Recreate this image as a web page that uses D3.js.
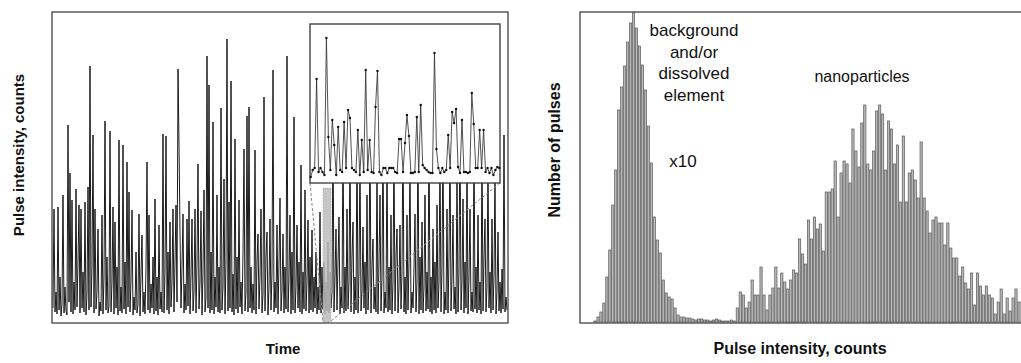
<!DOCTYPE html>
<html><head><meta charset="utf-8">
<script src="https://cdn.jsdelivr.net/npm/d3@7"></script>
<style>body{margin:0;background:#fff}svg{display:block}text{font-family:"Liberation Sans",Arial,Helvetica,sans-serif}</style>
</head><body><div id="c"></div>
<script>
// Left panel: time-resolved signal (counts), one value per time step
const signal = [
14,113,10,30,8,115,12,45,6,18,127,9,35,11,7,197,20,149,10,122,
8,40,12,133,15,60,117,9,113,14,50,10,120,7,28,135,12,256,15,55,
187,9,113,13,30,93,6,20,11,107,8,45,201,12,65,9,16,191,10,40,
115,8,100,14,55,7,182,11,35,9,177,13,60,8,160,15,130,10,42,112,
7,25,12,70,9,18,108,6,48,87,10,30,8,55,160,12,107,9,38,14,
65,8,123,11,45,7,97,13,30,10,188,9,50,186,12,70,8,100,15,40,
113,10,60,117,20,253,178,90,14,55,108,9,38,12,103,16,121,8,45,103,
11,30,113,9,60,158,13,40,111,7,50,132,10,25,266,14,237,9,70,12,
200,8,45,15,127,10,55,9,214,12,35,143,8,60,283,11,120,14,241,10,
48,7,183,13,65,9,122,15,40,8,70,173,11,30,206,10,215,14,55,9,
38,12,172,8,60,88,13,45,113,9,28,225,11,65,90,7,35,103,12,50,
252,10,40,14,97,8,60,124,11,30,88,9,55,13,266,10,45,107,8,70,
12,205,9,35,97,14,60,10,157,8,50,13,132,11,40,102,9,65,12,92,
10,45,14,70,8,35,12,110,9,55,13,60,8,40,11,80,9,50,14,30,
200,10,45,93,12,60,105,8,35,14,200,9,55,11,113,13,40,180,10,65,
100,8,45,12,190,9,50,170,11,30,95,14,60,8,127,12,40,200,9,55,
83,13,35,10,160,8,60,127,11,45,190,9,30,14,170,10,55,12,107,8,
40,180,11,65,93,9,35,97,13,50,200,10,45,8,107,12,60,160,9,30,
14,55,108,10,40,190,8,65,12,100,9,35,127,11,50,13,200,10,45,8,
93,12,60,9,117,14,40,170,10,55,190,8,30,12,113,9,65,180,11,45,
107,13,35,8,160,10,50,200,12,40,123,9,60,14,170,8,45,113,11,30,
10,190,13,55,9,107,12,40,8,180,11,65,103,10,35,160,14,50,9,103,
12,45,150,8,30,90,11,40,9,53,13,187,10,25,12
];
const zoomWindow = [270, 278];          // time steps shown enlarged in the inset
// Inset: enlarged portion of the signal
const insetSignal = [
1,8,10,99,6,10,6,3,140,41,8,58,33,3,51,8,6,56,10,68,
60,10,8,6,48,3,38,6,108,8,38,6,5,71,107,6,3,10,10,5,
10,10,10,6,5,39,39,6,35,63,42,5,5,6,61,6,73,13,10,8,
6,5,5,125,29,10,5,10,6,8,43,10,66,55,69,11,5,58,6,6,
5,6,85,54,10,10,48,10,48,6,10,5,10,3,8,11,10
];
// Right panel: histogram of pulse intensities (number of pulses per bin)
const histCounts = [
1,5,10,19,45,72,117,152,212,235,256,280,299,309,294,276,257,232,196,159,
105,82,69,42,29,25,23,14,7,5,5,4,4,3,2,3,3,2,2,1,2,3,2,1,1,1,2,1,14,30,27,
14,20,42,27,27,55,27,12,27,34,55,34,49,40,33,42,52,49,83,68,58,102,83,105,93,98,71,130,130,133,161,105,149,
161,158,139,193,171,155,199,217,158,152,171,211,217,208,152,201,193,158,177,120,186,120,149,152,142,124,180,124,111,89,
102,105,99,99,77,99,74,64,64,46,55,39,33,49,17,49,36,27,36,27,24,8,20,33,8,24,11,24,33,20
];
const labels = {
  leftX: "Time", leftY: "Pulse intensity, counts",
  rightX: "Pulse intensity, counts", rightY: "Number of pulses"
};
const bgNote = ["background","and/or","dissolved","element"];
const scaleNote = "x10";
const npNote = "nanoparticles";

const W = 1021, H = 363;
const svg = d3.select("#c").append("svg").attr("width", W).attr("height", H);

// ---------- Left panel ----------
const L = {x0: 52, x1: 508, y0: 12, y1: 323};
const xT = d3.scaleLinear().domain([0, signal.length - 1]).range([53, 507]);
const yT = d3.scaleLinear().domain([0, 310]).range([322, 12]);
svg.append("clipPath").attr("id","clipL").append("rect")
  .attr("x", L.x0).attr("y", L.y0).attr("width", L.x1-L.x0).attr("height", L.y1-L.y0);
const gL = svg.append("g").attr("clip-path","url(#clipL)");
gL.append("path").datum(signal)
  .attr("d", d3.line().x((d,i)=>xT(i)).y(d=>yT(d)))
  .attr("fill","none").attr("stroke","#111").attr("stroke-width",0.95);

// highlighted window
const wx0 = xT(zoomWindow[0]), wx1 = xT(zoomWindow[1]);
const inset = {x0: 310, x1: 500, y0: 24, y1: 183};
gL.append("rect").attr("x", wx0).attr("y", 188).attr("width", wx1-wx0).attr("height", 322-188)
  .attr("fill","#bdbdbd").attr("opacity",0.85).attr("stroke","#999").attr("stroke-width",0.6).attr("stroke-dasharray","1.5,1.5");
gL.append("line").attr("x1", inset.x0).attr("y1", inset.y1).attr("x2", wx0).attr("y2", 322)
  .attr("stroke","#888").attr("stroke-width",1).attr("stroke-dasharray","3,2");
gL.append("line").attr("x1", inset.x1).attr("y1", inset.y1).attr("x2", wx1).attr("y2", 321)
  .attr("stroke","#888").attr("stroke-width",1).attr("stroke-dasharray","3,2");

// inset
svg.append("rect").attr("x", inset.x0).attr("y", inset.y0)
  .attr("width", inset.x1-inset.x0).attr("height", inset.y1-inset.y0)
  .attr("fill","#fff").attr("stroke","#333").attr("stroke-width",1.3);
const xI = d3.scaleLinear().domain([0, insetSignal.length - 1]).range([310.7, 499.3]);
const yI = d3.scaleLinear().domain([0, 150]).range([178, 28]);
svg.append("path").datum(insetSignal)
  .attr("d", d3.line().x((d,i)=>xI(i)).y(d=>yI(d)))
  .attr("fill","none").attr("stroke","#333").attr("stroke-width",0.85);
svg.append("g").selectAll("circle").data(insetSignal).join("circle")
  .attr("cx",(d,i)=>xI(i)).attr("cy",d=>yI(d)).attr("r",1.2).attr("fill","#111");

svg.append("rect").attr("x", L.x0).attr("y", L.y0).attr("width", L.x1-L.x0).attr("height", L.y1-L.y0)
  .attr("fill","none").attr("stroke","#333").attr("stroke-width",1.2);

svg.append("text").attr("x", 283).attr("y", 354).attr("text-anchor","middle")
  .attr("font-size",15).attr("font-weight","bold").attr("fill","#111").text(labels.leftX);
svg.append("text").attr("transform","translate(24,155) rotate(-90)").attr("text-anchor","middle")
  .attr("font-size",15).attr("font-weight","bold").attr("fill","#111").text(labels.leftY);

// ---------- Right panel ----------
const R = {x0: 580, x1: 1030, y0: 12, y1: 323};
const pitch = (1019 - 595) / (histCounts.length - 1);
const xH = d3.scaleLinear().domain([0, histCounts.length - 1]).range([595, 1019]);
const yH = d3.scaleLinear().domain([0, 310]).range([322, 12]);
svg.append("g").selectAll("rect").data(histCounts).join("rect")
  .attr("x",(d,i)=>xH(i) - pitch*0.38).attr("width", pitch*0.76)
  .attr("y", d=>yH(d)).attr("height", d=>yH(0)-yH(d))
  .attr("fill","#b8b8b8").attr("stroke","#5a5a5a").attr("stroke-width",0.7);
svg.append("rect").attr("x", R.x0).attr("y", R.y0).attr("width", R.x1-R.x0).attr("height", R.y1-R.y0)
  .attr("fill","none").attr("stroke","#333").attr("stroke-width",1.2);

const tNote = svg.append("text").attr("text-anchor","middle").attr("font-size",17).attr("fill","#111");
bgNote.forEach((s,i)=>tNote.append("tspan").attr("x",694).attr("y",36 + i*21.5).text(s));
svg.append("text").attr("x",683).attr("y",167).attr("text-anchor","middle").attr("font-size",17).attr("fill","#111").text(scaleNote);
svg.append("text").attr("x",862).attr("y",82).attr("text-anchor","middle").attr("font-size",16).attr("fill","#111").text(npNote);

svg.append("text").attr("x", 800).attr("y", 354).attr("text-anchor","middle")
  .attr("font-size",16).attr("font-weight","bold").attr("fill","#111").text(labels.rightX);
svg.append("text").attr("transform","translate(560,150) rotate(-90)").attr("text-anchor","middle")
  .attr("font-size",16).attr("font-weight","bold").attr("fill","#111").text(labels.rightY);
</script></body></html>
